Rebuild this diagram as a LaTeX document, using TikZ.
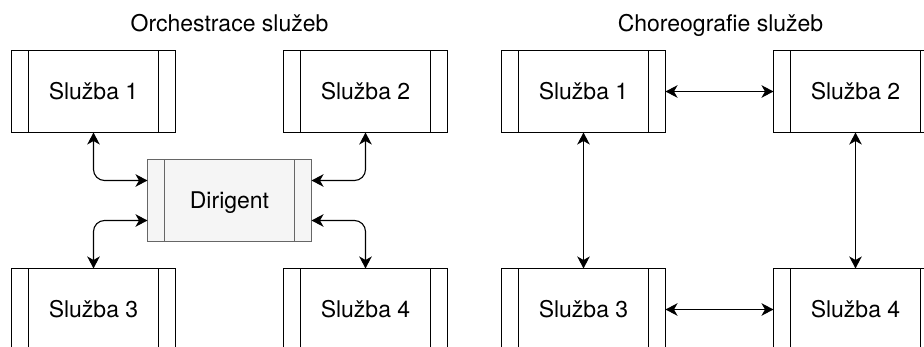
\documentclass[tikz,border=0pt]{standalone}
\usepackage{fontspec}
\setmainfont{TeX Gyre Heros}
\usetikzlibrary{arrows.meta}
\tikzset{
  svc/.style={draw=black,line width=1.1pt,fill=white,rectangle,inner sep=0pt,outer sep=0pt,
    minimum width=164pt,minimum height=82pt,text height=17pt,text depth=0pt,
    font=\fontsize{23}{27}\selectfont,
    path picture={
      \draw[line width=1.1pt,draw=#1] ([xshift=17pt]path picture bounding box.north west) -- ([xshift=17pt]path picture bounding box.south west);
      \draw[line width=1.1pt,draw=#1] ([xshift=-17pt]path picture bounding box.north east) -- ([xshift=-17pt]path picture bounding box.south east);
    }},
  svc/.default=black,
  dirbox/.style={svc=dirgray,draw=dirgray,fill=dirfill},
  conn/.style={line width=1.1pt,draw=black,rounded corners=11pt,
    {Stealth[length=12pt,width=12.5pt,inset=3.5pt]}-{Stealth[length=12pt,width=12.5pt,inset=3.5pt]}},
  titletext/.style={anchor=base,inner sep=0pt,font=\fontsize{23}{27}\selectfont}
}
\definecolor{dirgray}{HTML}{666666}
\definecolor{dirfill}{HTML}{F5F5F5}
\begin{document}
\begin{tikzpicture}[x=1pt,y=-1pt]
\useasboundingbox (0,0) rectangle (924,347);
\clip (0,0) rectangle (924,347);
\node[titletext] (t1) at (229.5,32) {Orchestrace služeb};
\node[titletext] (t2) at (720.5,32) {Choreografie služeb};
\node[svc] (a1) at (93.5,91.5) {Služba 1};
\node[svc] (a2) at (365.5,91.5) {Služba 2};
\node[svc] (a3) at (93.5,309.5) {Služba 3};
\node[svc] (a4) at (365.5,309.5) {Služba 4};
\node[dirbox] (d) at (229.5,200.5) {Dirigent};
\node[svc] (b1) at (583.5,91.5) {Služba 1};
\node[svc] (b2) at (855.5,91.5) {Služba 2};
\node[svc] (b3) at (583.5,309.5) {Služba 3};
\node[svc] (b4) at (855.5,309.5) {Služba 4};
\draw[conn] (a1.south) |- ([yshift=20pt]d.west);
\draw[conn] (a2.south) |- ([yshift=20pt]d.east);
\draw[conn] (a3.north) |- ([yshift=-20pt]d.west);
\draw[conn] (a4.north) |- ([yshift=-20pt]d.east);
\draw[conn] (b1.east) -- (b2.west);
\draw[conn] (b3.east) -- (b4.west);
\draw[conn] (b1.south) -- (b3.north);
\draw[conn] (b2.south) -- (b4.north);
\end{tikzpicture}
\end{document}
